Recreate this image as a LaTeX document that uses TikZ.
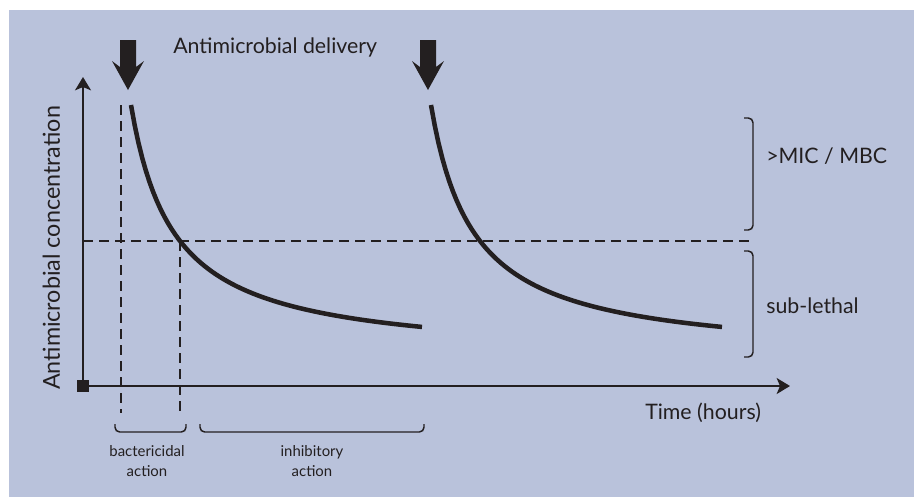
\documentclass[tikz,border=0pt]{standalone}
\usepackage{fontspec}
\setmainfont{Lato}
\usetikzlibrary{arrows.meta,positioning}
\definecolor{bgblue}{RGB}{185,194,219}
\definecolor{inkblack}{RGB}{35,31,32}

\begin{document}
\begin{tikzpicture}[x=0.75pt,y=-0.75pt,
  axis/.style={draw=inkblack,line width=1.4pt,-{Stealth[length=10pt,width=12pt,inset=2.5pt]}},
  dashline/.style={draw=inkblack,line width=1.1pt,dash pattern=on 7.5pt off 4.5pt},
  curve/.style={draw=inkblack,line width=3.4pt},
  bracket/.style={draw=inkblack,line width=1.1pt,rounded corners=3.5pt},
  lbl/.style={font=\fontsize{16}{19}\selectfont,text=inkblack,inner sep=0pt},
  small/.style={font=\fontsize{11.2}{15}\selectfont,text=inkblack,inner sep=0pt,align=center}]
  \useasboundingbox (0,0) rectangle (918,497);
  \fill[bgblue] (9,10) rectangle (914,497);
  % Axes
  \coordinate (origin) at (83,386);
  \coordinate (ytop) at (83,77);
  \coordinate (xend) at (790,386);
  \draw[axis] (origin) -- (ytop);
  \draw[axis] (origin) -- (xend);
  \fill[inkblack] (77,380) rectangle (89,392);
  \node[lbl,font=\fontsize{17.5}{20}\selectfont,rotate=90,anchor=base] (ylabel) at (60,248) {Antimicrobial concentration};
  \node[lbl,anchor=base west] (xlabel) at (645,419) {Time (hours)};
  % Threshold and action limits
  \draw[dashline] (83,241) -- (753,241);
  \draw[dashline] (121,105) -- (121,413);
  \draw[dashline] (180,241) -- (180,413);
  % Concentration after each delivery
  \draw[curve] plot[domain=131:422,samples=80] (\x,{359.5-10868/(\x-88.3)});
  \draw[curve] plot[domain=431:722,samples=80] (\x,{359.5-10868/(\x-388.3)});
  % Delivery arrows
  \foreach \ax in {128,428}
    \fill[inkblack] (\ax-8,40) -- (\ax-8,67) -- (\ax-16,61) -- (\ax,90) -- (\ax+16,61) -- (\ax+8,67) -- (\ax+8,40) -- cycle;
  \node[lbl,anchor=base west] (delivery) at (173,53) {Antimicrobial delivery};
  % Concentration ranges
  \draw[bracket] (744,118) -- (753,118) -- (753,230) -- (744,230);
  \draw[bracket] (744,251) -- (753,251) -- (753,357) -- (744,357);
  \node[lbl,anchor=base west] (mic) at (766,163) {>MIC / MBC};
  \node[lbl,anchor=base west] (sublethal) at (766,313) {sub-lethal};
  % Action periods
  \draw[bracket] (115,424) -- (115,432) -- (186,432) -- (186,424);
  \draw[bracket] (200,424) -- (200,432) -- (424,432) -- (424,424);
  \node[small,anchor=north] (bacter) at (147,445) {bactericidal\\action};
  \node[small,anchor=north] (inhib) at (312,445) {inhibitory\\action};
\end{tikzpicture}
\end{document}
